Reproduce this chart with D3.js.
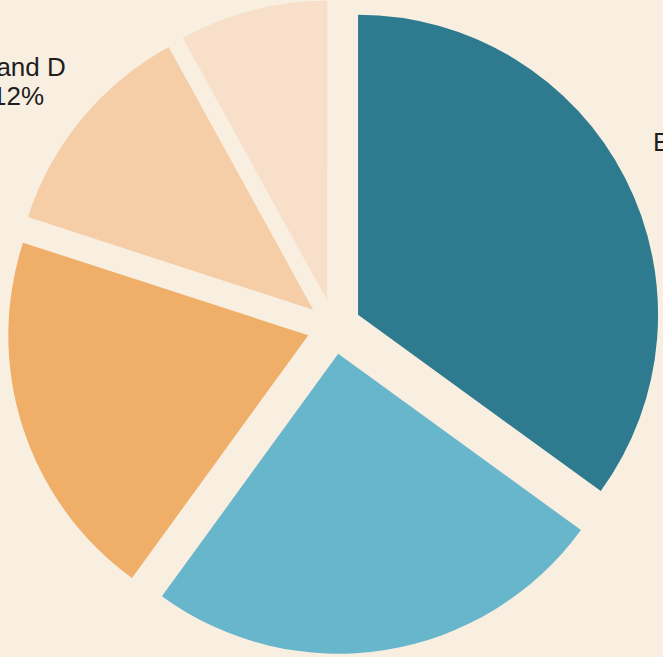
<!DOCTYPE html>
<html>
<head>
<meta charset="utf-8">
<script src="https://cdn.jsdelivr.net/npm/d3@7"></script>
<style>
  html, body { margin: 0; padding: 0; background: #f9efe1; overflow: hidden; }
</style>
</head>
<body>
<div id="pie"></div>
<script>
// Market share pie, exploded slices

var labels = ["Brand A", "Brand B", "Brand C", "Brand D", "Brand E"];
var shares = [35, 25, 20, 12, 8];
var colors = ["#2e7b90", "#68b6cc", "#efaf68", "#f5cda7", "#f7dfc9"];

var svgWidth = 663;
var svgHeight = 657;

var cx = 334, cy = 327;
var radius = 300;
var explode = 27;

var svg = d3.select("#pie").append("svg")
    .attr("width", svgWidth)
    .attr("height", svgHeight);

svg.append("rect")
    .attr("width", svgWidth)
    .attr("height", svgHeight)
    .attr("fill", "#f9efe1");

var chartGroup = svg.append("g")
    .attr("transform", `translate(${cx}, ${cy})`);

var data = labels.map((l, i) => ({label: l, value: shares[i], color: colors[i]}));

var pie = d3.pie()
    .sort(null)
    .value(d => d.value);

var arc = d3.arc()
    .innerRadius(0)
    .outerRadius(radius);

var labelArc = d3.arc()
    .innerRadius(410)
    .outerRadius(410);

var arcs = pie(data);

// Slices pushed out along their middle angle
chartGroup.selectAll("path")
    .data(arcs)
    .enter()
    .append("path")
    .attr("d", arc)
    .attr("fill", d => d.data.color)
    .attr("transform", function(d) {
        var mid = (d.startAngle + d.endAngle) / 2;
        return `translate(${explode * Math.sin(mid)}, ${-explode * Math.cos(mid)})`;
    });

// Labels outside the pie
var labelGroups = chartGroup.selectAll("g.label")
    .data(arcs)
    .enter()
    .append("g")
    .attr("class", "label")
    .attr("transform", d => `translate(${labelArc.centroid(d)})`);

labelGroups.append("text")
    .attr("text-anchor", "middle")
    .attr("font-family", "Liberation Sans, Arial, sans-serif")
    .attr("font-size", "26px")
    .attr("fill", "#1e1e1e")
    .attr("y", 10)
    .text(d => d.data.label);

labelGroups.append("text")
    .attr("text-anchor", "middle")
    .attr("font-family", "Liberation Sans, Arial, sans-serif")
    .attr("font-size", "26px")
    .attr("fill", "#1e1e1e")
    .attr("y", 39)
    .text(d => d.data.value + "%");
</script>
</body>
</html>
